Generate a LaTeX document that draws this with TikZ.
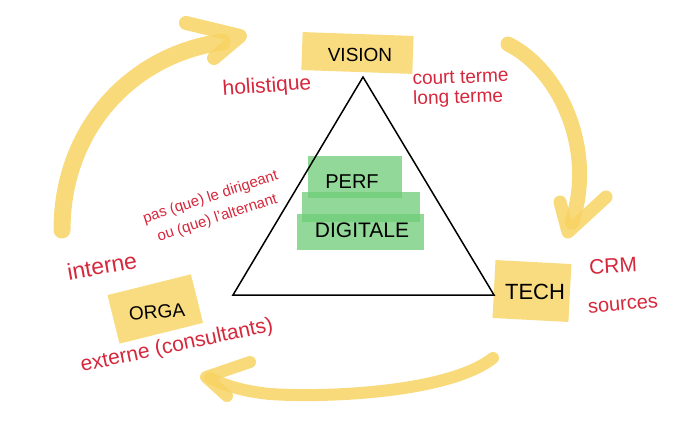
\documentclass[tikz,border=0pt]{standalone}
\usepackage{fontspec}
\setmainfont{Liberation Sans}
\definecolor{hlyellow}{RGB}{249,214,106}
\definecolor{bandyellow}{RGB}{248,212,100}
\definecolor{hlgreen}{RGB}{110,205,120}
\definecolor{inkred}{RGB}{214,40,60}
\begin{document}
\begin{tikzpicture}[x=1pt,y=-1pt,
  band/.style={draw=bandyellow,line cap=round,line join=round,opacity=0.85},
  hlbox/.style={fill=hlyellow,opacity=0.85},
  greenbox/.style={fill=hlgreen,opacity=0.75},
  redtxt/.style={text=inkred,inner sep=0pt},
  blacktxt/.style={text=black,inner sep=0pt},
  fs/.style={font=\fontsize{#1}{#1}\selectfont}]
\fill[white] (0,0) rectangle (700,437);
\useasboundingbox (0,0) rectangle (700,437);

% yellow highlights
\fill[hlbox,rotate around={-2:(358,52)}] (302,34) rectangle (413,72);
\fill[hlbox,rotate around={14:(155,308)}] (112,284) rectangle (198,334);
\fill[hlbox,rotate around={-3:(532,290)}] (494,262) rectangle (570,320);

% green highlight
\begin{scope}[greenbox]
\fill (308,156) rectangle (402,198);
\fill (302,192) rectangle (420,222);
\fill (297,214) rectangle (424,250);
\end{scope}

% triangle
\coordinate (apex) at (363,77);
\coordinate (bl) at (233,295);
\coordinate (br) at (494,295);
\draw[line width=1.5pt,line join=miter] (apex) -- (br) -- (bl) -- cycle;

% arrows
\coordinate (l0) at (62,230);
\coordinate (l1) at (222,42);
\coordinate (l2) at (186,23);
\coordinate (l3) at (240,36);
\coordinate (l4) at (214,58);
\draw[band,line width=17pt] (l0) .. controls (62,130) and (130,55) .. (l1);
\draw[band,line width=14pt] (l2) -- (l3) -- (l4);

\coordinate (r0) at (508,44);
\coordinate (r1) at (572,222);
\coordinate (r2) at (560,202);
\coordinate (r3) at (568,232);
\coordinate (r4) at (606,197);
\draw[band,line width=15pt] (r0) .. controls (560,70) and (596,150) .. (r1);
\draw[band,line width=13pt] (r2) -- (r3) -- (r4);

\coordinate (b0) at (493,358);
\coordinate (b1) at (270,394);
\coordinate (b2) at (210,378);
\coordinate (b3) at (250,362);
\coordinate (b4) at (206,377);
\coordinate (b5) at (227,396);
\draw[band,line width=12pt] (b0) .. controls (450,392) and (330,398) .. (b1) .. controls (240,391) and (222,384) .. (b2);
\draw[band,line width=12pt] (b3) -- (b4) -- (b5);

% black labels
\node[blacktxt,fs=19] (vision) at (360,55) {VISION};
\node[blacktxt,fs=20] (perf) at (352,182) {PERF};
\node[blacktxt,fs=21] (digitale) at (362,230) {DIGITALE};
\node[blacktxt,fs=22] (tech) at (535,292) {TECH};
\node[blacktxt,fs=19,rotate=5] (orga) at (157,312) {ORGA};

% red annotations
\node[redtxt,fs=21,rotate=4] (holistique) at (267,87) {holistique};
\node[redtxt,fs=19,rotate=2,align=left] (terme) at (461,89) {court terme\\[1pt]long terme};
\node[redtxt,fs=15,rotate=18,align=center] (pas) at (214,208) {pas (que) le dirigeant\\[7pt]ou (que) l'alternant};
\node[redtxt,fs=23,rotate=10] (interne) at (102,266) {interne};
\node[redtxt,fs=21,rotate=12] (externe) at (177,346) {externe (consultants)};
\node[redtxt,fs=21,rotate=3] (crm) at (613,266) {CRM};
\node[redtxt,fs=20,rotate=5] (sources) at (623,305) {sources};
\end{tikzpicture}
\end{document}
